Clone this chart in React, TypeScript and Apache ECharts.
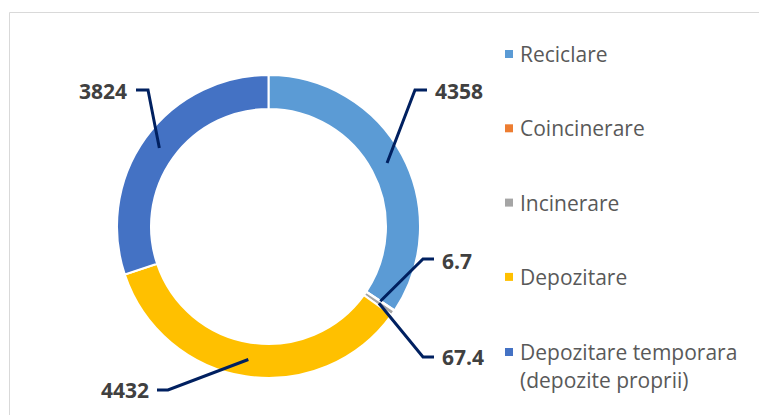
import React, { useEffect, useRef } from "react";
import * as echarts from "echarts";

const categories = [
  "Reciclare",
  "Coincinerare",
  "Incinerare",
  "Depozitare",
  "Depozitare temporara (depozite proprii)",
];
const values = [4358, 6.7, 67.4, 4432, 3824];
const colors = ["#5B9BD5", "#ED7D31", "#A5A5A5", "#FFC000", "#4472C4"];

const CENTER = [268.5, 226.5];
const RADIUS = [117.5, 151.5];

// Manual label placement (leader elbow, leader end, text anchor)
const LABEL_LAYOUT = [
  { elbow: [415, 90], end: [427, 90], text: [435, 91], align: "left" },
  { elbow: [423, 259], end: [434, 259], text: [442, 261], align: "left" },
  { elbow: [423, 357], end: [434, 357], text: [442, 357], align: "left" },
  { elbow: [168, 390], end: [157, 390], text: [149, 390], align: "right" },
  { elbow: [148, 90], end: [136, 90], text: [127, 91], align: "right" },
];

function midAngle(i: number): number {
  const total = values.reduce((a, b) => a + b, 0);
  let acc = 0;
  for (let k = 0; k < i; k++) acc += values[k];
  const frac = (acc + values[i] / 2) / total;
  return -Math.PI / 2 + frac * Math.PI * 2;
}

export default function App() {
  const ref = useRef<HTMLDivElement>(null);
  useEffect(() => {
    if (!ref.current) return;
    const chart = echarts.init(ref.current, undefined, { renderer: "svg" });
    const legendText = {
      fontFamily: "Open Sans",
      fontSize: 21,
      color: "#595959",
      lineHeight: 28,
      padding: [0, 0, 0, 2],
    };
    const pieData = categories.map((name, i) => ({ name, value: values[i] }));
    chart.setOption({
      animation: false,
      backgroundColor: "#ffffff",
      color: colors,
      graphic: [
        {
          type: "rect",
          shape: { x: 9.5, y: 12.5, width: 800, height: 500 },
          style: { fill: "none", stroke: "#d9d9d9", lineWidth: 1 },
          silent: true,
        },
      ],
      legend: [
        {
          orient: "vertical",
          left: 505,
          top: 40,
          padding: 0,
          icon: "rect",
          itemWidth: 8,
          itemHeight: 8,
          itemGap: 46.3,
          selectedMode: false,
          itemStyle: { borderWidth: 0 },
          data: categories.slice(0, 4),
          textStyle: legendText,
        },
        {
          orient: "vertical",
          left: 505,
          top: 310,
          padding: 0,
          icon: "rect",
          itemWidth: 8,
          itemHeight: 8,
          selectedMode: false,
          itemStyle: { borderWidth: 0 },
          data: categories.slice(4),
          formatter: (name: string) => "\n" + name.replace(" (", "\n("),
          textStyle: legendText,
        },
      ],
      series: [
        {
          type: "pie",
          z: 2,
          center: CENTER,
          radius: RADIUS,
          startAngle: 90,
          clockwise: true,
          avoidLabelOverlap: false,
          itemStyle: { borderColor: "#ffffff", borderWidth: 2 },
          label: { show: false },
          labelLine: { show: false },
          silent: true,
          data: pieData,
        },
        {
          // overlay: same layout, transparent sectors, carries labels & leader lines above the ring
          type: "pie",
          z: 5,
          center: CENTER,
          radius: RADIUS,
          startAngle: 90,
          clockwise: true,
          avoidLabelOverlap: false,
          minShowLabelAngle: 0,
          silent: true,
          itemStyle: { color: "rgba(0,0,0,0)", borderWidth: 0 },
          label: {
            show: true,
            position: "outside",
            formatter: "{c}",
            fontFamily: "Open Sans",
            fontWeight: "bold",
            fontSize: 21,
            color: "#404040",
          },
          labelLine: {
            show: true,
            showAbove: true,
            length: 10,
            length2: 10,
            smooth: false,
            lineStyle: { color: "#002060", width: 3 },
          },
          labelLayout: (params: any) => {
            const i = params.dataIndex;
            const L = LABEL_LAYOUT[i];
            let ang = midAngle(i);
            const p0 = params.labelLinePoints && params.labelLinePoints[0];
            if (p0) ang = Math.atan2(p0[1] - CENTER[1], p0[0] - CENTER[0]);
            const rm = (RADIUS[0] + RADIUS[1]) / 2;
            const start = [CENTER[0] + rm * Math.cos(ang), CENTER[1] + rm * Math.sin(ang)];
            return {
              x: L.text[0],
              y: L.text[1],
              align: L.align,
              verticalAlign: "middle",
              labelLinePoints: [start, L.elbow, L.end],
            };
          },
          data: pieData,
        },
      ],
    });
    return () => chart.dispose();
  }, []);
  return (
    <div
      ref={ref}
      style={{ position: "fixed", left: 0, top: 0, width: 759, height: 415 }}
    />
  );
}
